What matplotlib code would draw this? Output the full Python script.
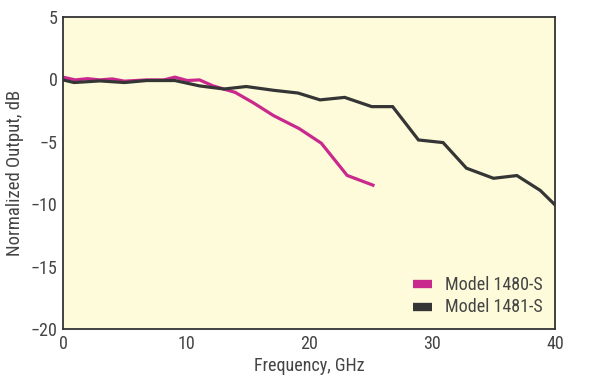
import matplotlib
matplotlib.use('Agg')
import matplotlib.pyplot as plt

plt.rcParams['font.family'] = ['Roboto Condensed', 'DejaVu Sans']

# Model 1480-S
freq_1480 = [0, 1, 2, 3, 4, 5, 6.8, 8.2, 9.1, 10.1, 11.1, 12.2, 14.0, 15.5, 17.1, 19.2, 21.0, 23.1, 25.2]
out_1480 = [0.17, -0.05, 0.05, -0.05, 0.03, -0.15, -0.05, -0.05, 0.17, -0.1, -0.05, -0.53, -1.05, -1.9, -2.9, -3.95, -5.12, -7.7, -8.48]

# Model 1481-S
freq_1481 = [0, 0.9, 3.0, 5.0, 6.8, 9.1, 11.1, 13.1, 14.9, 17.1, 19.1, 20.9, 22.9, 25.1, 26.8, 28.9, 30.9, 32.8, 35.0, 36.9, 38.8, 40]
out_1481 = [-0.05, -0.26, -0.13, -0.26, -0.1, -0.1, -0.53, -0.78, -0.58, -0.88, -1.1, -1.65, -1.45, -2.19, -2.19, -4.86, -5.07, -7.12, -7.93, -7.71, -8.9, -10.06]

fig = plt.figure(figsize=(6, 3.83), dpi=100)
ax = fig.add_axes([0.105, 0.141, 0.82, 0.815])
ax.set_facecolor('#fefbda')

ax.plot(freq_1480, out_1480, color='#c9298d', lw=2.3, label='Model 1480-S', solid_joinstyle='miter')
ax.plot(freq_1481, out_1481, color='#353535', lw=2.3, label='Model 1481-S', solid_joinstyle='miter')

ax.set_xlim(0, 40)
ax.set_ylim(-20, 5)
ax.set_xticks([0, 10, 20, 30, 40])
ax.set_yticks([5, 0, -5, -10, -15, -20])
ax.set_yticklabels(['5', '0', '\u22125', '\u221210', '\u221215', '\u221220'])
ax.tick_params(length=0, labelsize=13, colors='#444444', pad=4)
for s in ax.spines.values():
    s.set_color('#333333')
    s.set_linewidth(1.3)

ax.set_xlabel('Frequency, GHz', fontsize=13, color='#444444', labelpad=3)
ax.set_ylabel('Normalized Output, dB', fontsize=13.5, color='#444444', labelpad=5)

leg = ax.legend(loc='lower right', frameon=False, fontsize=13, handlelength=1.05,
                handleheight=0.5, borderaxespad=0.3, labelspacing=0.25, handletextpad=0.7)
for h in leg.get_lines():
    h.set_linewidth(6)
    h.set_solid_capstyle('butt')
for t in leg.get_texts():
    t.set_color('#444444')

fig.savefig('out.png', dpi=100)
